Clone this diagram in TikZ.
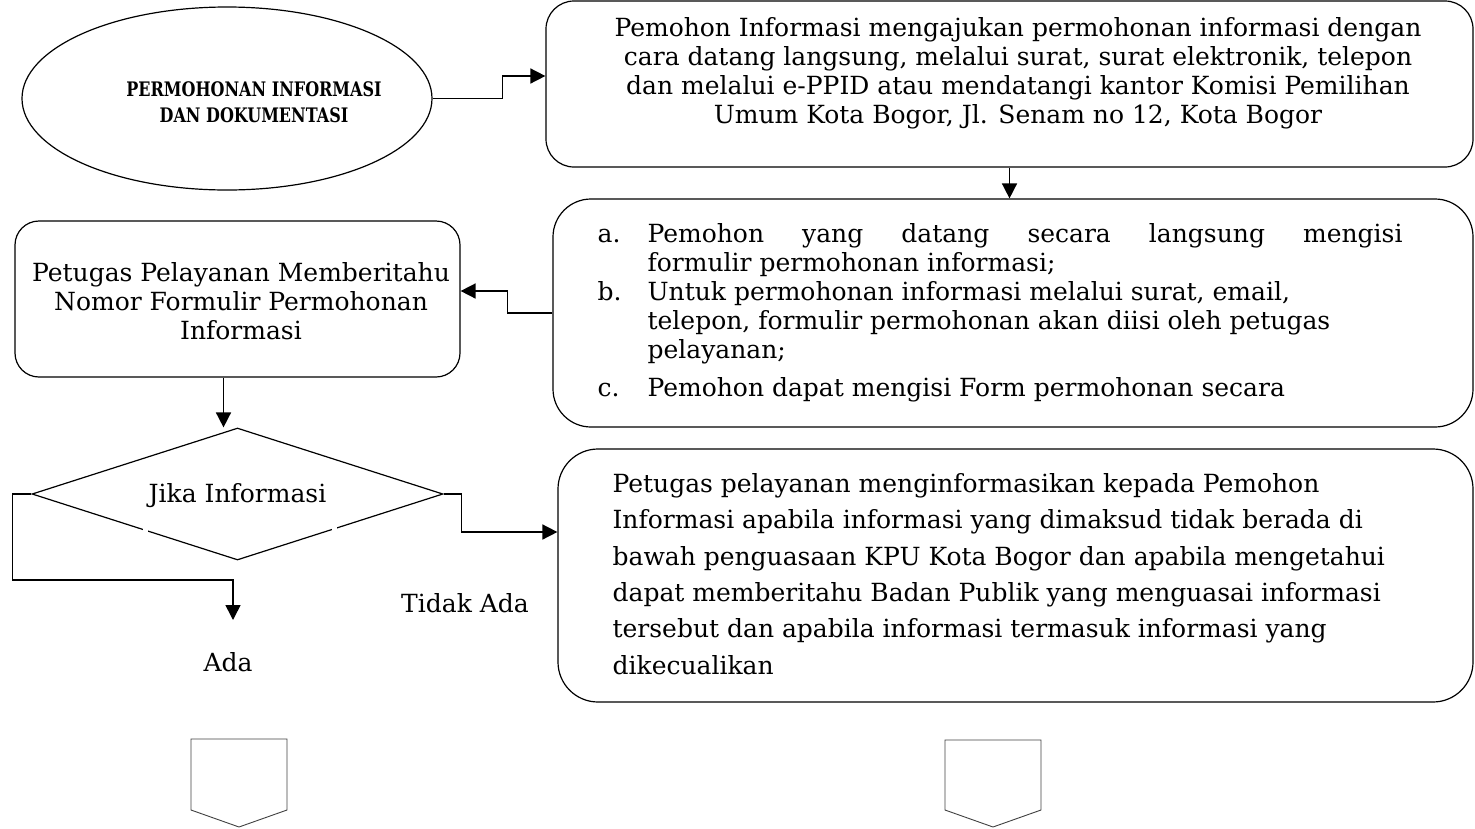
\documentclass[tikz,border=0pt]{standalone}
\usepackage{fontspec}
\setmainfont{DejaVu Serif}
\newfontfamily\ttlfont{DejaVu Serif}[FakeStretch=0.8]
\usetikzlibrary{arrows.meta,shapes.geometric}
\begin{document}
\begin{tikzpicture}[x=1pt,y=-1pt,line width=1.2pt,
  >={Triangle[length=15pt,width=15pt]},
  box/.style={draw,rounded corners=#1,inner sep=0pt},
  txt/.style={font=\fontsize{25}{29}\selectfont,inner sep=0pt},
  txtw/.style={font=\fontsize{25}{36.3}\selectfont,inner sep=0pt,align=left},
  ttl/.style={font=\ttlfont\fontsize{20}{26}\selectfont\bfseries,inner sep=0pt,align=center},
  conn/.style={->,line width=1.6pt},
  penta/.style={draw=black!75,line width=0.9pt}]
\useasboundingbox (0,0) rectangle (1475,828);

% shapes
\node[draw,ellipse,inner sep=0pt,minimum width=410pt,minimum height=183pt] (ell) at (227,98.5) {};
\node[box=28pt,minimum width=927pt,minimum height=166pt] (b1) at (1009.5,84) {};
\node[box=38pt,minimum width=920pt,minimum height=228pt] (b2) at (1013,313) {};
\node[box=24pt,minimum width=445pt,minimum height=156pt] (b3) at (237.5,299) {};
\node[box=40pt,minimum width=915pt,minimum height=253pt] (b4) at (1015.5,575.5) {};
\node[draw,diamond,inner sep=0pt,minimum width=411pt,minimum height=132pt,shape aspect=3.1] (dia) at (237.5,494) {};

% small gaps in the diamond's lower edges
\fill[white] (143,525) rectangle (147.5,535);
\fill[white] (332,524) rectangle (336.5,534);

% texts
\node[ttl] (tt) at (254,102) {PERMOHONAN INFORMASI\\DAN DOKUMENTASI};
\node[txt,align=center] (t1) at (1018,73) {Pemohon Informasi mengajukan permohonan informasi dengan\\cara datang langsung, melalui surat, surat elektronik, telepon\\dan melalui e-PPID atau mendatangi kantor Komisi Pemilihan\\Umum Kota Bogor, Jl. Senam no 12, Kota Bogor};
\node[txt,align=center] (t3) at (241,301) {Petugas Pelayanan Memberitahu\\Nomor Formulir Permohonan\\Informasi};
\node[txt,anchor=north west] (t2) at (597,222) {\setlength{\tabcolsep}{0pt}\begin{tabular}{@{}p{50pt}@{}l@{}}
a. & \makebox[755pt][s]{Pemohon yang datang secara langsung mengisi}\\
   & formulir permohonan informasi;\\
b. & Untuk permohonan informasi melalui surat, email,\\
   & telepon, formulir permohonan akan diisi oleh petugas\\
   & pelayanan;\\[9pt]
c. & Pemohon dapat mengisi Form permohonan secara
\end{tabular}};
\node[txtw,anchor=west] (t4) at (612,574) {Petugas pelayanan menginformasikan kepada Pemohon\\Informasi apabila informasi yang dimaksud tidak berada di\\bawah penguasaan KPU Kota Bogor dan apabila mengetahui\\dapat memberitahu Badan Publik yang menguasai informasi\\tersebut dan apabila informasi termasuk informasi yang\\dikecualikan};
\node[txt] (tj) at (237.5,496) {Jika Informasi};
\node[txt] (tada) at (228,662) {Ada};
\node[txt] (ttidak) at (465,603) {Tidak Ada};

% connectors
\coordinate (adaend) at (233,620);
\draw[conn] (ell.east) -- ++(70,0) |- ([yshift=8pt]b1.west);
\draw[conn] (b1.south) -- (b1.south |- b2.north);
\draw[conn] (b2.west) -- ++(-45,0) |- ([yshift=8pt]b3.east);
\draw[conn] ([xshift=-14pt]b3.south) -- ([xshift=-14pt]b3.south |- dia.north);
\draw[conn] (dia.west) -- ++(-19,0) |- (adaend |- 0,580) -- (adaend);
\draw[conn] (dia.east) -- ++(18,0) |- ([yshift=43.5pt]b4.west);

% bottom off-page connectors
\draw[penta] (191,739) -- (287,739) -- (287,810) -- (239,827) -- (191,810) -- cycle;
\draw[penta] (945,740) -- (1041,740) -- (1041,810) -- (993,827) -- (945,810) -- cycle;
\end{tikzpicture}
\end{document}
